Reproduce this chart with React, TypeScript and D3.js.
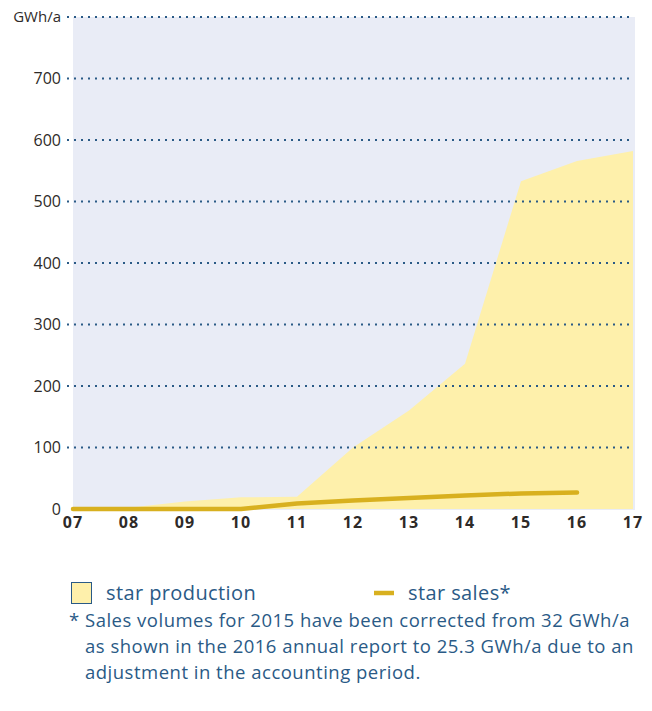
import React from "react";
import * as d3 from "d3";

const years = ["07", "08", "09", "10", "11", "12", "13", "14", "15", "16", "17"];
const production = [2, 2, 12, 19, 20, 100, 160, 236, 533, 566, 582];
const salesYears = ["07", "08", "09", "10", "11", "12", "13", "14", "15", "16"];
const sales = [0, 0, 0, 0, 9, 14, 18, 22, 25.3, 27];
const yTicks = [0, 100, 200, 300, 400, 500, 600, 700];
const yUnitLabel = "GWh/a";
const legendLabels = ["star production", "star sales*"];
const footnoteLines = [
  "as shown in the 2016 annual report to 25.3 GWh/a due to an",
  "adjustment in the accounting period.",
];
const footnoteFirst = "Sales volumes for 2015 have been corrected from 32 GWh/a";

const BLUE = "#2a5a86";
const AREA = "#fef0ab";
const BG = "#e9ecf6";
const LINE = "#d8b01f";
const FONT = "'Open Sans', 'Noto Sans', sans-serif";

export default function App() {
  const x = d3.scalePoint<string>().domain(years).range([73, 633]);
  const y = d3.scaleLinear().domain([0, 800]).range([509, 17]);

  const area = d3
    .area<number>()
    .x((_, i) => x(years[i])!)
    .y0(y(0))
    .y1((d) => y(d));
  const line = d3
    .line<number>()
    .x((_, i) => x(salesYears[i])!)
    .y((d) => y(d));

  return (
    <svg width={652} height={711} style={{ position: "absolute", left: 0, top: 0 }}>
      <rect x={73} y={y(800)} width={562} height={y(0) - y(800) + 1} fill={BG} />
      <path d={area(production) ?? ""} fill={AREA} />
      {[...yTicks.slice(1), 800].map((t) => (
        <line
          key={t}
          x1={67}
          x2={633}
          y1={y(t)}
          y2={y(t)}
          stroke={BLUE}
          strokeWidth={2}
          strokeDasharray="2 5"
        />
      ))}
      <path
        d={line(sales) ?? ""}
        fill="none"
        stroke={LINE}
        strokeWidth={4.5}
        strokeLinecap="round"
        strokeLinejoin="round"
      />
      {yTicks.map((t) => (
        <text
          key={t}
          x={61}
          y={y(t)}
          dy="0.35em"
          textAnchor="end"
          fontFamily={FONT}
          fontSize={16}
          fill="#2e2a28"
        >
          {t}
        </text>
      ))}
      <text x={61} y={y(800)} dy="0.35em" textAnchor="end" fontFamily={FONT} fontSize={15} fill="#2e2a28">
        {yUnitLabel}
      </text>
      {years.map((yr) => (
        <text
          key={yr}
          x={x(yr)}
          y={528}
          textAnchor="middle"
          fontFamily={FONT}
          fontWeight={700}
          fontSize={16}
          letterSpacing={1}
          fill="#2e2a28"
        >
          {yr}
        </text>
      ))}
      <rect x={71.5} y={582.5} width={20} height={21} fill={AREA} stroke={BLUE} strokeWidth={1} />
      <text x={106} y={593} dy="0.35em" fontFamily={FONT} fontSize={20} letterSpacing={0.4} fill={BLUE}>
        {legendLabels[0]}
      </text>
      <line x1={374} x2={394} y1={593} y2={593} stroke={LINE} strokeWidth={4.5} />
      <text x={408} y={593} dy="0.35em" fontFamily={FONT} fontSize={20} letterSpacing={0.4} fill={BLUE}>
        {legendLabels[1]}
      </text>
      <text x={69} y={627} fontFamily={FONT} fontSize={18.5} fill={BLUE}>
        *
      </text>
      <text x={85} y={627} fontFamily={FONT} fontSize={18.5} letterSpacing={0.5} fill={BLUE}>
        {footnoteFirst}
      </text>
      {footnoteLines.map((l, i) => (
        <text key={i} x={85} y={653 + i * 25.5} fontFamily={FONT} fontSize={18.5} letterSpacing={0.5} fill={BLUE}>
          {l}
        </text>
      ))}
    </svg>
  );
}
